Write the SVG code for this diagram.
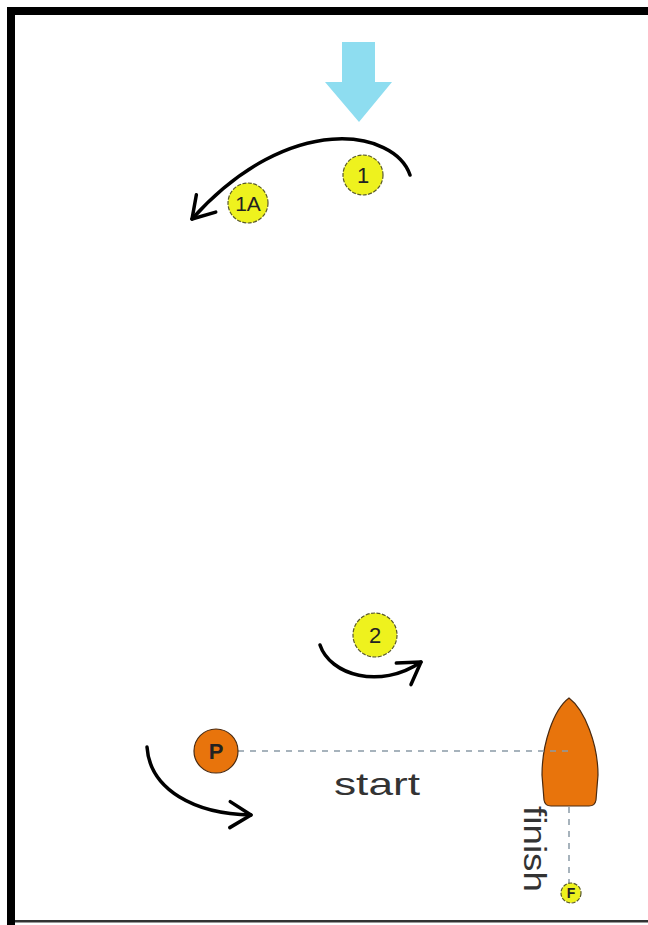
<svg xmlns="http://www.w3.org/2000/svg" width="648" height="925" viewBox="0 0 648 925">
<defs>
<style>
.buoy{fill:#EEF21E;stroke:#5a5a2a;stroke-width:1.2;stroke-dasharray:4 1.5}
.pin{fill:#E8740C;stroke:#4a2a10;stroke-width:1.2}
.lbl{font-family:"Liberation Sans",Arial,sans-serif;fill:#222;text-anchor:middle}
.arc{fill:none;stroke:#000;stroke-width:3.5;stroke-linecap:round}
.dash{stroke:#8a9aa6;stroke-width:1.5;stroke-dasharray:6 6;fill:none}
.big{font-family:"Liberation Sans",Arial,sans-serif;fill:#333}
</style>
<marker id="chev" markerUnits="userSpaceOnUse" markerWidth="30" markerHeight="30" refX="0" refY="0" viewBox="-15 -15 30 30" orient="auto" overflow="visible">
<path d="M-21,-13 L0,0 L-21,13" fill="none" stroke="#000" stroke-width="3.5" stroke-linecap="round" stroke-linejoin="round"/>
</marker>
</defs>
<rect width="648" height="925" fill="#fff"/>
<g id="frame">
<rect x="7" y="7" width="641" height="8" fill="#000"/>
<rect x="7" y="7" width="8" height="918" fill="#000"/>
<rect x="15" y="920" width="633" height="2.5" fill="#333"/>
</g>
<g id="wind">
<polygon points="342,42 375,42 375,82 392,82 359,122 325,82 342,82" fill="#8EDDF0"/>
</g>
<g id="boat">
<path class="pin" d="M569,698 C585,710 598,745 598,775 L596,800 Q595,806 589,806 L551,806 Q545,806 544,800 L542,775 C542,745 553,710 569,698 Z"/>
</g>
<g id="connectors">
<path class="arc" d="M410,175 C395,130 290,110 192,219" marker-end="url(#chev)"/>
<path class="arc" d="M320,645 C330,675 380,690 421,662" marker-end="url(#chev)"/>
<path class="arc" d="M147,747 C150,790 195,814 251,815" marker-end="url(#chev)"/>
<line class="dash" x1="238" y1="751" x2="572" y2="751"/>
<line class="dash" x1="569" y1="807" x2="569" y2="884"/>
</g>
<g id="mark1">
<circle class="buoy" cx="363" cy="175" r="20"/>
<text class="lbl" x="363" y="183" font-size="22">1</text>
</g>
<g id="mark1A">
<circle class="buoy" cx="248" cy="203" r="20"/>
<text class="lbl" x="248" y="211" font-size="21">1A</text>
</g>
<g id="mark2">
<circle class="buoy" cx="375" cy="635" r="22"/>
<text class="lbl" x="375" y="643" font-size="22">2</text>
</g>
<g id="markP">
<circle class="pin" cx="216" cy="751" r="22"/>
<text class="lbl" x="216" y="759" font-size="22" font-weight="bold">P</text>
</g>
<g id="markF">
<circle class="buoy" cx="571" cy="893" r="10"/>
<text class="lbl" x="571" y="898" font-size="14" font-weight="bold">F</text>
</g>
<g id="labels">
<text class="big" x="334" y="795" font-size="32" textLength="86" lengthAdjust="spacingAndGlyphs">start</text>
<text class="big" transform="translate(524,806) rotate(90)" x="0" y="0" font-size="32" textLength="86" lengthAdjust="spacingAndGlyphs">finish</text>
</g>
</svg>
